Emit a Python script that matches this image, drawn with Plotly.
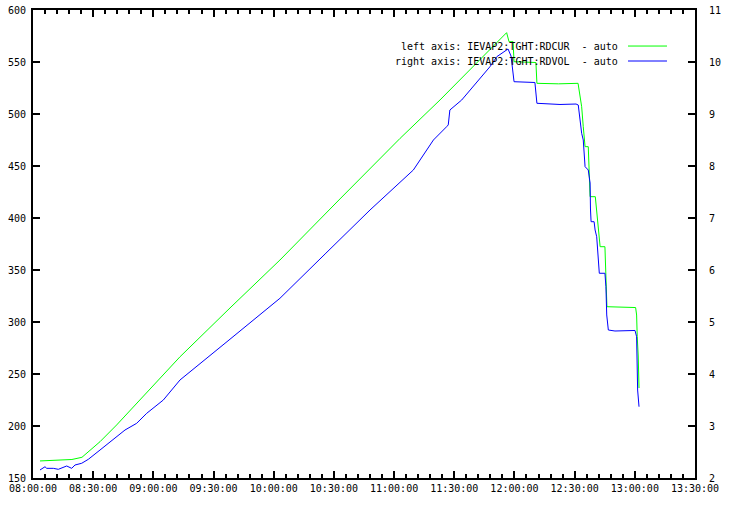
import plotly.graph_objects as go

DATE = "2000-01-01 "

cur_times = ["08:03:29", "08:14:58", "08:19:24", "08:24:24", "08:33:24", "08:41:42",
             "08:53:18", "09:13:18", "09:38:12", "10:03:06", "10:33:00", "11:03:00",
             "11:22:54", "11:37:48", "11:56:06", "11:57:18", "11:59:18", "11:59:48",
             "12:10:42", "12:11:12", "12:22:00", "12:31:42", "12:33:30", "12:34:18",
             "12:35:12", "12:36:48", "12:37:42", "12:40:18", "12:41:00", "12:41:36",
             "12:42:18", "12:42:42", "12:45:06", "12:46:00", "12:46:06", "13:00:24",
             "13:00:54", "13:01:12", "13:01:42", "13:02:06"]
cur_values = [166.4, 167.3, 167.8, 169.9, 184.9, 201.0,
              225.0, 266.6, 313.5, 359.6, 418.3, 476.6,
              513.5, 542.6, 578.2, 569.5, 569.5, 550.3,
              549.5, 529.5, 529.0, 529.5, 507.0, 487.8,
              468.6, 468.6, 420.5, 420.5, 406.1, 395.2,
              380.8, 372.4, 372.4, 334.0, 314.7, 313.9,
              306.7, 285.9, 267.3, 236.5]

vol_times = ["08:03:29", "08:05:59", "08:06:50", "08:10:07", "08:12:37", "08:16:48",
             "08:19:17", "08:20:56", "08:24:17", "08:27:34", "08:33:24", "08:40:02",
             "08:45:52", "08:51:41", "08:56:41", "09:04:58", "09:13:17", "09:38:12",
             "10:03:06", "10:25:36", "10:48:00", "11:09:36", "11:19:36", "11:26:12",
             "11:27:00", "11:27:48", "11:33:42", "11:47:48", "11:51:12", "11:56:48",
             "11:58:18", "11:59:48", "12:10:12", "12:11:12", "12:22:42", "12:30:42",
             "12:31:48", "12:32:42", "12:33:30", "12:34:18", "12:35:12", "12:36:48",
             "12:37:42", "12:37:54", "12:38:12", "12:39:42", "12:40:12", "12:41:00",
             "12:41:18", "12:41:48", "12:42:18", "12:45:06", "12:45:36", "12:46:00",
             "12:46:48", "12:50:06", "13:00:06", "13:00:54", "13:01:24", "13:02:06"]
vol_values = [2.154, 2.217, 2.186, 2.186, 2.167, 2.231,
              2.186, 2.250, 2.283, 2.359, 2.538, 2.744,
              2.923, 3.052, 3.244, 3.500, 3.885, 4.669,
              5.456, 6.308, 7.154, 7.923, 8.500, 8.756,
              8.790, 9.077, 9.269, 9.910, 10.102, 10.250,
              10.115, 9.621, 9.606, 9.206, 9.183, 9.192,
              9.173, 8.885, 8.629, 8.500, 7.987, 7.923,
              7.673, 7.173, 6.929, 6.929, 6.769, 6.640,
              6.423, 6.096, 5.937, 5.937, 5.679, 5.135,
              4.846, 4.827, 4.837, 4.717, 3.692, 3.371]

legend_labels = ["left axis: IEVAP2:TGHT:RDCUR  - auto",
                 "right axis: IEVAP2:TGHT:RDVOL  - auto"]

FONT = "DejaVu Sans Mono"

fig = go.Figure()
fig.add_trace(go.Scatter(x=[DATE + t for t in cur_times], y=cur_values, mode="lines",
                         line=dict(color="#00ff00", width=1), name=legend_labels[0],
                         yaxis="y"))
fig.add_trace(go.Scatter(x=[DATE + t for t in vol_times], y=vol_values, mode="lines",
                         line=dict(color="#0000ff", width=1), name=legend_labels[1],
                         yaxis="y2"))

fig.update_layout(
    width=739, height=517,
    margin=dict(l=33, r=44, t=10, b=39, autoexpand=False),
    paper_bgcolor="white", plot_bgcolor="white",
    showlegend=False,
    font=dict(family=FONT, size=10, color="black"),
    xaxis=dict(
        type="date", automargin=False,
        range=[DATE + "08:00:00", DATE + "13:30:00"],
        tickmode="linear", tick0=DATE + "08:00:00", dtick=30 * 60 * 1000,
        tickformat="%H:%M:%S",
        ticks="inside", ticklen=7, tickwidth=2, tickcolor="black",
        minor=dict(ticks="inside", ticklen=4, tickwidth=2, dtick=6 * 60 * 1000,
                   tickcolor="black"),
        showline=True, linecolor="black", linewidth=2, mirror="ticks",
        showgrid=False, zeroline=False,
    ),
    yaxis=dict(
        range=[150, 600], tickmode="linear", tick0=150, dtick=50,
        ticks="inside", ticklen=7, tickwidth=2, tickcolor="black",
        showline=True, linecolor="black", linewidth=2,
        showgrid=False, zeroline=False,
        ticklabelstandoff=3,
    ),
    yaxis2=dict(
        automargin=False,
        range=[2, 11], tickmode="linear", tick0=2, dtick=1,
        overlaying="y", side="right",
        ticks="inside", ticklen=7, tickwidth=2, tickcolor="black",
        showline=True, linecolor="black", linewidth=2,
        showgrid=False, zeroline=False,
        ticklabelstandoff=10,
    ),
)

# gnuplot-style key: text right-aligned, sample line to its right
key_rows = [0.923, 0.891]
colors = ["#00ff00", "#0000ff"]
for label, yy, col in zip(legend_labels, key_rows, colors):
    fig.add_annotation(x=0.8867, y=yy, xref="paper", yref="paper", text=label,
                       showarrow=False, xanchor="right", yanchor="middle",
                       font=dict(family=FONT, size=10, color="black"))
    fig.add_shape(type="line", xref="paper", yref="paper",
                  x0=0.8988, x1=0.9577, y0=yy, y1=yy,
                  line=dict(color=col, width=1))

fig.write_html("out.html", config={"displayModeBar": False},
               post_script="document.body.style.margin='0';")
